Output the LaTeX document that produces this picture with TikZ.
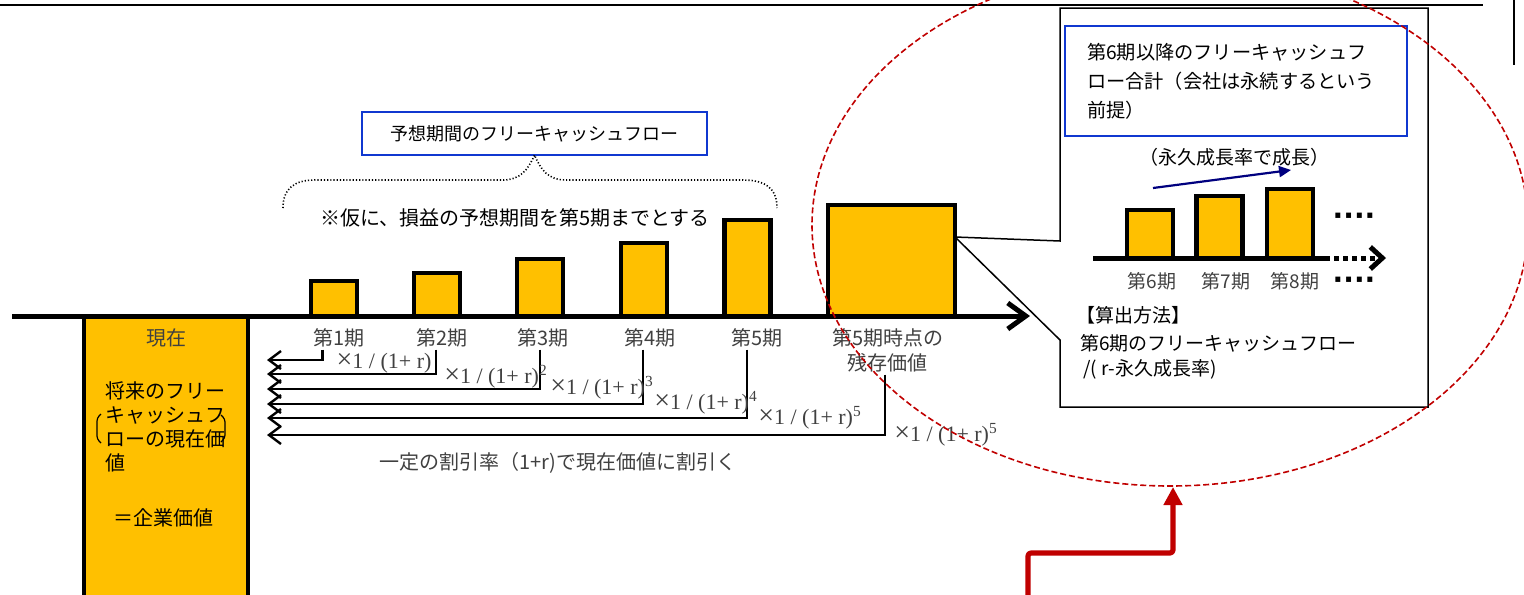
\documentclass[tikz,border=0pt]{standalone}
\usepackage{fontspec}
\setmainfont{Liberation Serif}
\newfontfamily\jp{Noto Sans CJK JP}
\newfontfamily\dvs{DejaVu Sans}
\usetikzlibrary{arrows.meta,calc}
\definecolor{barc}{HTML}{FFC000}
\definecolor{bbl}{HTML}{1038D0}
\definecolor{dred}{HTML}{C00000}
\definecolor{navyc}{HTML}{00007F}
\definecolor{tgray}{HTML}{404040}
\newcommand{\bigx}{{\fontsize{14}{14}\selectfont ×}}
\begin{document}
\begin{tikzpicture}[x=0.5pt,y=-0.5pt,
  barbox/.style={draw=black,line width=2.2pt,fill=barc,inner sep=0pt,outer sep=0pt,anchor=south,minimum width=23pt},
  jpn/.style={font=\jp\fontsize{10}{12}\selectfont,inner sep=0pt},
  cjpn/.style={font=\jp\fontsize{9.5}{12}\selectfont,inner sep=0pt},
  plabel/.style={font=\jp\fontsize{10}{12}\selectfont,text=tgray,inner sep=1pt},
  slabel/.style={font=\jp\fontsize{9.5}{12}\selectfont,text=tgray,inner sep=1pt},
  flabel/.style={font=\fontsize{11}{13}\selectfont,text=tgray,inner sep=0pt},
  disc/.style={line width=1.2pt,-{Straight Barb[length=6pt,width=9pt]}},
  axisline/.style={line width=2.5pt},
  bluebox/.style={draw=bbl,line width=1pt,inner sep=0pt,outer sep=0pt},
  dotbrace/.style={line width=0.8pt,dash pattern=on 0.6pt off 1pt},
  dotsym/.style={font=\dvs\bfseries\fontsize{14}{14}\selectfont,inner sep=0pt},
  reddash/.style={draw=dred,line width=0.8pt,dash pattern=on 3pt off 1.5pt},
  redarrow/.style={draw=dred,line width=2.6pt,line join=round,rounded corners=1.5pt,-{Triangle[length=9pt,width=9pt]}},
  navyarrow/.style={draw=navyc,line width=1.1pt,-{Triangle[length=6pt,width=5.5pt]}}
]
\useasboundingbox (0,0) rectangle (1524,594);
\clip (0,0) rectangle (1524,594);

% top rules
\coordinate (tl1) at (0,5);
\coordinate (tl2) at (1483,5);
\draw[line width=1.2pt] (tl1) -- (tl2);
\coordinate (tr1) at (1514,0);
\coordinate (tr2) at (1514,65);
\draw[line width=1pt] (tr1) -- (tr2);

% present box
\node[draw=black,line width=2.2pt,fill=barc,inner sep=0pt,outer sep=0pt,anchor=north,minimum width=82pt,minimum height=160pt] (now) at (166,316) {};
\node[plabel] (nowl) at (166,338) {現在};
\node[jpn,anchor=north west,align=left] (pvtext) at (105,381) {将来のフリー\\キャッシュフ\\ローの現在価\\値};
\node[jpn] (ev) at (163,518) {＝企業価値};
\draw[line width=0.6pt,rounded corners=1.5pt] (101,414) -- (97,418) -- (97,439) -- (101,443);
\draw[line width=0.6pt,rounded corners=1.5pt] (221,415) -- (225,419) -- (225,438) -- (221,442);

% bars
\node[barbox,minimum height=17.5pt] (b1) at (334,316) {};
\node[barbox,minimum height=21.5pt] (b2) at (437,316) {};
\node[barbox,minimum height=28.5pt] (b3) at (540,316) {};
\node[barbox,minimum height=36.5pt] (b4) at (644,316) {};
\node[barbox,minimum height=48pt] (b5) at (747.5,316) {};
\node[barbox,minimum width=63.5pt,minimum height=55.5pt] (res) at (891.5,316) {};

% main axis
\coordinate (axl) at (12,316);
\coordinate (axr) at (1030,316);
\draw[axisline,-{Straight Barb[length=9pt,width=13pt]}] (axl) -- (axr);

% period labels
\node[plabel] (p1) at (339,338) {第1期};
\node[plabel] (p2) at (442,338) {第2期};
\node[plabel] (p3) at (543,338) {第3期};
\node[plabel] (p4) at (650,338) {第4期};
\node[plabel] (p5) at (757,338) {第5期};
\node[plabel] (r1) at (888,338) {第5期時点の};
\node[plabel] (r2) at (887,363) {残存価値};

% discount arrows
\coordinate (e1) at (267,360);
\coordinate (e2) at (267,374);
\coordinate (e3) at (267,389);
\coordinate (e4) at (267,404);
\coordinate (e5) at (267,418);
\coordinate (e6) at (267,435);
\draw[disc] ([xshift=-8.25pt]p1.south) |- (e1);
\draw[disc] ([xshift=-3pt]p2.south) |- (e2);
\draw[disc] ([xshift=-1.5pt]p3.south) |- (e3);
\draw[disc] ([xshift=-3.5pt]p4.south) |- (e4);
\draw[disc] ([xshift=-5pt]p5.south) |- (e5);
\draw[disc] ([xshift=-1pt]r2.south) |- (e6);

\node[flabel] (f1) at (384,363) {\bigx1 / (1+ r)};
\node[flabel] (f2) at (496,377) {\bigx1 / (1+ r)\textsuperscript{2}};
\node[flabel] (f3) at (602,388) {\bigx1 / (1+ r)\textsuperscript{3}};
\node[flabel] (f4) at (706,403) {\bigx1 / (1+ r)\textsuperscript{4}};
\node[flabel] (f5) at (810,418) {\bigx1 / (1+ r)\textsuperscript{5}};
\node[flabel] (f6) at (946,435) {\bigx1 / (1+ r)\textsuperscript{5}};
\node[plabel] (dnote) at (558,463) {一定の割引率（1+r)で現在価値に割引く};

% forecast box and brace
\node[bluebox,minimum width=172.5pt,minimum height=21.5pt,font=\jp\fontsize{9}{11}\selectfont] (fcf) at (534.5,133.5) {予想期間のフリーキャッシュフロー};
\draw[dotbrace] (283,208) .. controls (283,188) and (295,180) .. (315,180) -- (503,180)
  .. controls (520,180) and (528,170) .. (fcf.south)
  .. controls (541,170) and (548,180) .. (566,180) -- (743,180)
  .. controls (765,180) and (777,188) .. (777,208);
\node[jpn] (note) at (515,218) {※仮に、損益の予想期間を第5期までとする};

% callout
\draw[line width=0.75pt] (1060,8) -- (1428,8) -- (1428,407) -- (1060,407) -- (1060,340)
  -- ($(res.east)+(0,-23.5)$) -- (1060,241) -- cycle;
\node[bluebox,anchor=north west,minimum width=171pt,minimum height=55pt,text width=149pt,align=left,inner xsep=11pt,font=\jp\fontsize{9.6}{14.5}\selectfont] (tv) at (1065,26) {第6期以降のフリーキャッシュフ\\ロー合計（会社は永続するという\\前提）};
\node[cjpn] (grow) at (1234,157) {（永久成長率で成長）};
\coordinate (na1) at (1153,188);
\coordinate (na2) at (1291,170);
\draw[navyarrow] (na1) -- (na2);

\node[barbox,minimum height=24pt] (b6) at (1150,258) {};
\node[barbox,minimum height=31pt] (b7) at (1219.5,258) {};
\node[barbox,minimum height=34.5pt] (b8) at (1290,258) {};
\coordinate (sb1) at (1093,258);
\coordinate (sb2) at (1325,258);
\coordinate (sb3) at (1386,258);
\draw[line width=2.5pt] (sb1) -- (sb2);
\draw[line width=2.5pt,dash pattern=on 2.5pt off 2pt,-{Straight Barb[length=6pt,width=11pt]}] (sb2) -- (sb3);
\node[dotsym] (d1) at (1354,219) {····};
\node[dotsym] (d2) at (1354,283) {····};
\node[slabel] (p6) at (1152,281) {第6期};
\node[slabel] (p7) at (1226,281) {第7期};
\node[slabel] (p8) at (1295,281) {第8期};

\node[cjpn,anchor=west] (m1) at (1076,315) {【算出方法】};
\node[cjpn,anchor=west] (m2) at (1080,343) {第6期のフリーキャッシュフロー};
\node[cjpn,anchor=west] (m3) at (1083,369) {/( r-永久成長率)};

% red dashed ellipse and red arrow
\draw[reddash] (1170,225) ellipse [x radius=358, y radius=261];
\coordinate (ra1) at (1028,600);
\coordinate (ra2) at (1173,553);
\coordinate (ra3) at (1173,487);
\draw[redarrow] (ra1) |- (ra2) -- (ra3);
\end{tikzpicture}
\end{document}
